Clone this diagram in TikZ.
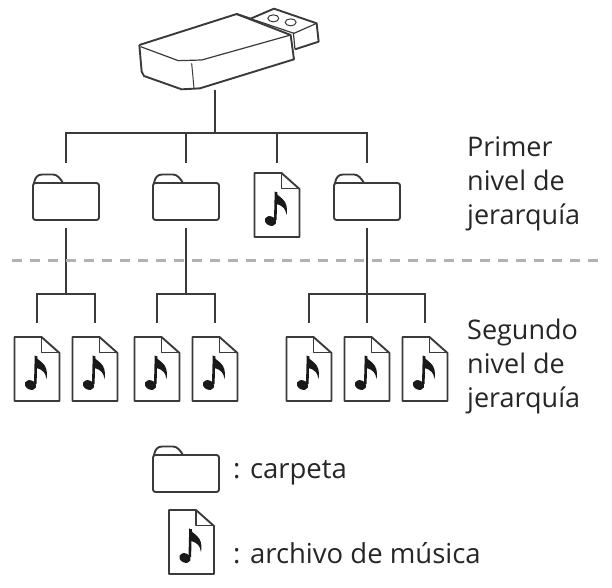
\documentclass[tikz,border=0pt]{standalone}
\usepackage{fontspec}
\setmainfont{Open Sans}
\definecolor{ink}{HTML}{3A3A3A}
\tikzset{
  x=1pt,y=-1pt,
  conn/.style={draw=ink,line width=1.8pt,line join=miter},
  icon/.style={draw=ink,line width=1.9pt,line join=round},
  label/.style={font=\fontsize{27}{34}\selectfont,text=black!85,align=left,anchor=north west,inner sep=0pt},
  legend/.style={font=\fontsize{27.5}{28}\selectfont,text=black!85,anchor=base west,inner sep=0pt},
  folder/.pic={
    \node[minimum width=66pt,minimum height=46pt,inner sep=0pt,outer sep=0pt] (-box) at (33,23) {};
    \draw[icon,rounded corners=2.5pt] (0,9) rectangle (66,46);
    \draw[icon] (1,9) .. controls (2,3) and (5,0.5) .. (9,0.5) -- (20,0.5) .. controls (24,0.5) and (27,4) .. (30,9);
  },
  musicdoc/.pic={
    \node[minimum width=45pt,minimum height=64pt,inner sep=0pt,outer sep=0pt] (-box) at (22.5,32) {};
    \draw[icon] (0,0) -- (27,0) -- (45,16) -- (45,64) -- (0,64) -- cycle;
    \draw[icon,line width=1.2pt] (27,0) -- (27,15.5) -- (45,15.5);
    \fill[black!90,rotate around={-25:(16,48)}] (16,48) ellipse [x radius=6pt,y radius=4.6pt];
    \draw[black!90,line width=2.6pt] (20.8,47) -- (21.5,19);
    \fill[black!90] (20.3,18) .. controls (23,25) and (35,25) .. (32,42) .. controls (31,36) and (29,33) .. (22,31) -- cycle;
  }
}
\begin{document}
\begin{tikzpicture}
\useasboundingbox (0,0) rectangle (612,587);
% USB stick
\node[minimum width=180pt,minimum height=90pt,inner sep=0pt,outer sep=0pt] (usb) at (215,49) {};
\begin{scope}[shift={(120,0)},x=0.3333pt,y=-0.3333pt]
  \draw[icon,line width=1.9pt] (58,135) -- (350,42) -- (392,56) -- (462,26) -- (590,70) -- (596,125) -- (525,148);
  \draw[icon,line width=1.9pt] (58,135) -- (65,215) -- (72,228) -- (185,268) -- (240,265) -- (522,178) -- (512,105) -- (350,42);
  \draw[icon,line width=1.2pt] (62,140) -- (175,182) -- (245,180) -- (512,105);
  \draw[icon,line width=1pt] (215,190) -- (222,264);
  \draw[icon,line width=1.2pt] (392,56) -- (522,100) -- (590,70);
  \draw[icon,line width=1.2pt] (520,98) -- (525,148);
  \draw[icon,line width=1pt] (460,55) ellipse [x radius=5.5pt,y radius=3.5pt];
  \draw[icon,line width=1pt] (512,67) ellipse [x radius=5.5pt,y radius=3.5pt];
\end{scope}
% Icons
\pic (f1) at (33,174) {folder};
\pic (f2) at (153,174) {folder};
\pic (m0) at (254.5,173) {musicdoc};
\pic (f3) at (334,174) {folder};
\pic (m1) at (14.5,337) {musicdoc};
\pic (m2) at (72.5,337) {musicdoc};
\pic (m3) at (134.5,337) {musicdoc};
\pic (m4) at (192.5,337) {musicdoc};
\pic (m5) at (286.5,337) {musicdoc};
\pic (m6) at (344.5,337) {musicdoc};
\pic (m7) at (402.5,337) {musicdoc};
\pic (lf) at (153,446) {folder};
\pic (lm) at (169,510) {musicdoc};
% Junctions
\coordinate (top) at (215,133);
\coordinate (j1) at (66,294);
\coordinate (j2) at (186,294);
\coordinate (j3) at (367,294);
\coordinate (d1) at (12,260);
\coordinate (d2) at (602,260);
% Connectors
\draw[conn,shorten <=-4.5pt] (usb.south) -- (top);
\draw[conn,shorten >=11pt] (top) -| (f1-box.north);
\draw[conn,shorten >=11pt] (top) -| (f2-box.north);
\draw[conn,shorten >=10pt] (top) -| (m0-box.north);
\draw[conn,shorten >=11pt] (top) -| (f3-box.north);
\draw[conn,shorten <=8pt] (f1-box.south) -- (j1);
\draw[conn,shorten <=8pt] (f2-box.south) -- (j2);
\draw[conn,shorten <=8pt,shorten >=14pt] (f3-box.south) -- (m6-box.north);
\draw[conn,shorten >=14pt] (j1) -| (m1-box.north);
\draw[conn,shorten >=14pt] (j1) -| (m2-box.north);
\draw[conn,shorten >=14pt] (j2) -| (m3-box.north);
\draw[conn,shorten >=14pt] (j2) -| (m4-box.north);
\draw[conn,shorten >=14pt] (j3) -| (m5-box.north);
\draw[conn,shorten >=14pt] (j3) -| (m7-box.north);
% Divider
\draw[draw=black!30,line width=3pt,dash pattern=on 10pt off 8pt] (d1) -- (d2);
% Labels
\node[label] (t1) at (467,136) {Primer\\nivel de\\jerarquía};
\node[label] (t2) at (467,319) {Segundo\\nivel de\\jerarquía};
\node[legend] (t3) at (233,478) {: carpeta};
\node[legend] (t4) at (233,563) {: archivo de música};
\end{tikzpicture}
\end{document}
